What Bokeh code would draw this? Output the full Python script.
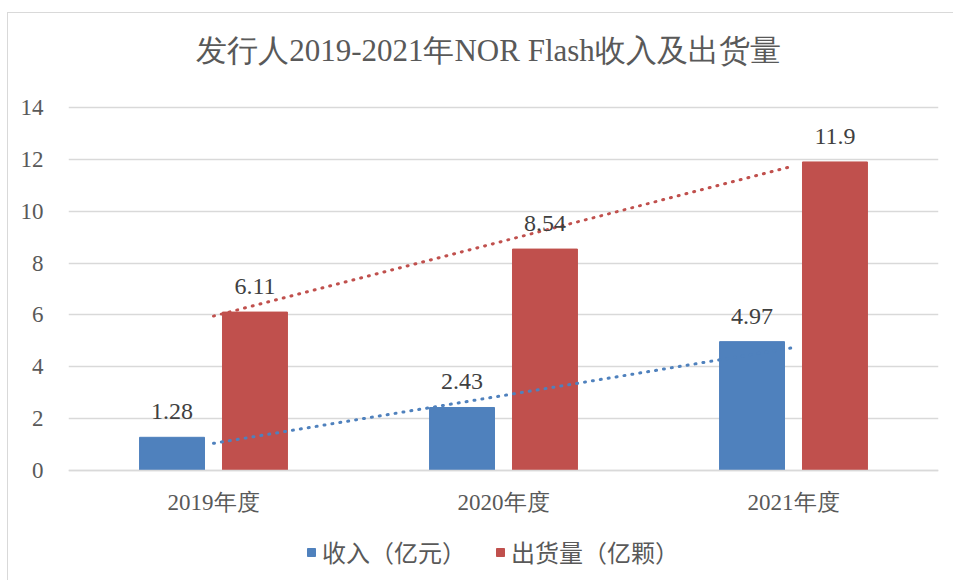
import numpy as np
from bokeh.plotting import figure
from bokeh.models import (ColumnDataSource, FactorRange, Range1d, LabelSet, Label,
                          Legend, LegendItem, FixedTicker)
from bokeh.transform import dodge
from bokeh.embed import file_html
from bokeh.resources import INLINE

# ---- data ----
categories = ["2019年度", "2020年度", "2021年度"]
revenue = [1.28, 2.43, 4.97]        # 收入（亿元）
shipments = [6.11, 8.54, 11.9]      # 出货量（亿颗）
series_names = ["收入（亿元）", "出货量（亿颗）"]
title_text = "发行人2019-2021年NOR Flash收入及出货量"
y_ticks = [0, 2, 4, 6, 8, 10, 12, 14]

# ---- style / layout ----
BLUE = "#4F81BD"
RED = "#C0504D"
GRID = "#d9d9d9"
TXT = "#595959"
SERIF = "Liberation Serif"
CJK = "Noto Sans CJK SC"
BAR_W = 0.224
OFF = 0.143

W, H = 946, 568
# frame spans full canvas height; value axis 0..14 occupies 363 px
PLOT_TOP, ZERO_Y, CANVAS_TOP, CANVAS_BOTTOM = 107, 470, 13, 13 + H
PX = (ZERO_Y - PLOT_TOP) / 14.0
y_end = 14 + (PLOT_TOP - CANVAS_TOP) / PX
y_start = -(CANVAS_BOTTOM - ZERO_Y) / PX

# linear trend lines (least squares fit of each series)
xi = np.arange(len(categories))
rev_fit = np.polyval(np.polyfit(xi, revenue, 1), xi)
shp_fit = np.polyval(np.polyfit(xi, shipments, 1), xi)

src = ColumnDataSource(dict(
    cat=categories,
    rev=revenue,
    shp=shipments,
    rev_lbl=[f"{v:g}" for v in revenue],
    shp_lbl=[f"{v:g}" for v in shipments],
    rev_fit=list(rev_fit),
    shp_fit=list(shp_fit),
))

p = figure(x_range=FactorRange(*categories), y_range=Range1d(y_start, y_end),
           width=W, height=H, output_backend="svg", toolbar_location=None,
           min_border_left=60, min_border_right=16, min_border_top=0,
           min_border_bottom=0)
p.styles = {"border-left": "1px solid #d9d9d9", "border-top": "1px solid #d9d9d9",
            "margin-top": "12px", "margin-left": "7px"}
p.outline_line_color = None
p.background_fill_color = "white"
p.border_fill_color = "white"

p.xgrid.grid_line_color = None
p.ygrid.grid_line_color = GRID
p.ygrid.grid_line_width = 1.5

p.yaxis.ticker = FixedTicker(ticks=y_ticks)
p.yaxis.axis_line_color = None
p.yaxis.major_tick_line_color = None
p.yaxis.minor_tick_line_color = None
p.yaxis.major_label_standoff = 19
p.yaxis.major_label_text_font = SERIF
p.yaxis.major_label_text_font_size = "23px"
p.yaxis.major_label_text_color = TXT

p.xaxis.fixed_location = 0
p.xaxis.axis_line_color = GRID
p.xaxis.axis_line_width = 1.5
p.xaxis.major_tick_line_color = None
p.xaxis.minor_tick_line_color = None
p.xaxis.major_label_standoff = 13
p.xaxis.major_label_text_font = SERIF
p.xaxis.major_label_text_font_size = "23px"
p.xaxis.major_label_text_color = TXT

r_rev = p.vbar(x=dodge("cat", -OFF, range=p.x_range), top="rev", width=BAR_W,
               source=src, fill_color=BLUE, line_color=BLUE)
r_shp = p.vbar(x=dodge("cat", OFF, range=p.x_range), top="shp", width=BAR_W,
               source=src, fill_color=RED, line_color=RED)

p.line(x="cat", y="rev_fit", source=src, line_color=BLUE, line_width=3,
       line_dash="1 7", line_cap="round")
p.line(x="cat", y="shp_fit", source=src, line_color=RED, line_width=3,
       line_dash="1 7", line_cap="round")

for field, lbl, off in [("rev", "rev_lbl", -OFF), ("shp", "shp_lbl", OFF)]:
    p.add_layout(LabelSet(x=dodge("cat", off, range=p.x_range), y=field, text=lbl,
                          source=src, y_offset=18, text_align="center",
                          text_baseline="alphabetic", text_font=SERIF,
                          text_font_size="24px", text_color="#404040"))

# title, in screen units relative to the frame (bottom-left origin)
p.add_layout(Label(x=488 - 68, y=CANVAS_BOTTOM - 50, x_units="screen", y_units="screen",
                   text=title_text, text_align="center", text_baseline="middle",
                   text_font=SERIF, text_font_size="31px", text_color=TXT))

legend = Legend(items=[LegendItem(label=series_names[0], renderers=[r_rev]),
                       LegendItem(label=series_names[1], renderers=[r_shp])],
                orientation="horizontal", location=(306 - 68, 12),
                glyph_width=10, glyph_height=10, label_standoff=6, spacing=29,
                padding=0, margin=0, border_line_color=None,
                background_fill_alpha=0, label_text_font=CJK,
                label_text_font_size="24px", label_text_color=TXT)
p.add_layout(legend, "center")

open("out.html", "w").write(file_html(p, INLINE))
